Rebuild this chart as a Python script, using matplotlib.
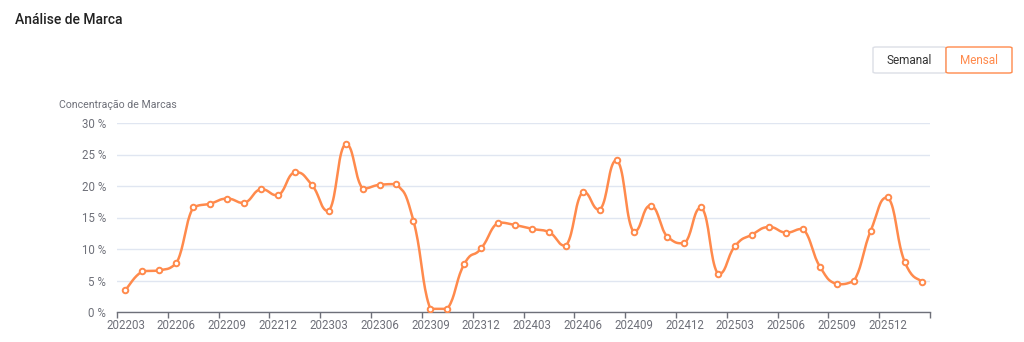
import numpy as np
import matplotlib.pyplot as plt
from matplotlib.patches import FancyBboxPatch

# monthly brand concentration (%)
months = [
    '202203', '202204', '202205', '202206', '202207', '202208', '202209', '202210',
    '202211', '202212', '202301', '202302', '202303', '202304', '202305', '202306',
    '202307', '202308', '202309', '202310', '202311', '202312', '202401', '202402',
    '202403', '202404', '202405', '202406', '202407', '202408', '202409', '202410',
    '202411', '202412', '202501', '202502', '202503', '202504', '202505', '202506',
    '202507', '202508', '202509', '202510', '202511', '202512', '202601', '202602',
]
concentration = [
    3.5, 6.45, 6.6, 7.7, 16.6, 17.2, 18.0, 17.3,
    19.5, 18.5, 22.2, 20.2, 16.0, 26.7, 19.6, 20.2,
    20.3, 14.5, 0.5, 0.5, 7.6, 10.1, 14.2, 13.8,
    13.2, 12.7, 10.5, 19.1, 16.2, 24.1, 12.7, 16.9,
    11.9, 10.9, 16.6, 6.0, 10.5, 12.3, 13.5, 12.6,
    13.2, 7.2, 4.4, 4.9, 12.9, 18.2, 8.0, 4.8,
]
y_ticks = [0, 5, 10, 15, 20, 25, 30]

ORANGE = '#ff8a4c'
GRAY = '#6e7079'


def smooth_curve(xs, ys, smooth=0.5, steps=20):
    """Bezier smoothing similar to the echarts 'smooth' line."""
    xs = np.asarray(xs, float)
    ys = np.asarray(ys, float)
    n = len(xs)
    out_x, out_y = [xs[0]], [ys[0]]
    for i in range(n - 1):
        p0 = np.array([xs[i], ys[i]])
        p1 = np.array([xs[i + 1], ys[i + 1]])
        prev = np.array([xs[i - 1], ys[i - 1]]) if i > 0 else p0
        nxt = np.array([xs[i + 2], ys[i + 2]]) if i + 2 < n else p1
        c1 = p0 + (p1 - prev) * smooth / 2
        c2 = p1 - (nxt - p0) * smooth / 2
        # keep control points within the segment's y range to avoid overshoot
        lo, hi = min(p0[1], p1[1]), max(p0[1], p1[1])
        c1[1] = np.clip(c1[1], lo, hi)
        c2[1] = np.clip(c2[1], lo, hi)
        t = np.linspace(0, 1, steps)[1:]
        bx = (1 - t) ** 3 * p0[0] + 3 * (1 - t) ** 2 * t * c1[0] + 3 * (1 - t) * t ** 2 * c2[0] + t ** 3 * p1[0]
        by = (1 - t) ** 3 * p0[1] + 3 * (1 - t) ** 2 * t * c1[1] + 3 * (1 - t) * t ** 2 * c2[1] + t ** 3 * p1[1]
        out_x.extend(bx)
        out_y.extend(by)
    return np.array(out_x), np.array(out_y)


plt.rcParams['font.family'] = ['Roboto', 'DejaVu Sans']

fig = plt.figure(figsize=(10.24, 3.42), dpi=100)
ax = fig.add_axes([117 / 1024, 1 - 312 / 342, (930 - 117) / 1024, (312 - 123) / 342])

x = np.arange(len(months))
sx, sy = smooth_curve(x, concentration)
ax.plot(sx, sy, color=ORANGE, linewidth=1.8, zorder=3, solid_capstyle='round')
ax.plot(x, concentration, linestyle='none', marker='o', markersize=4.0,
        markerfacecolor='white', markeredgecolor=ORANGE, markeredgewidth=1.4, zorder=4)

ax.set_xlim(-0.5, len(months) - 0.5)
ax.set_ylim(0, 30)
ax.set_yticks(y_ticks)
ax.set_yticklabels([f'{v} %' for v in y_ticks])
ax.yaxis.grid(True, color='#e0e6f1', linewidth=1)
ax.set_axisbelow(True)

label_idx = x[::3]
ax.set_xticks(label_idx)
ax.set_xticklabels([months[i] for i in label_idx])
ax.set_xticks(np.append(label_idx - 0.5, len(months) - 0.5), minor=True)
ax.tick_params(axis='x', which='major', length=0, pad=5, labelsize=8.3, labelcolor=GRAY)
ax.tick_params(axis='x', which='minor', length=4, color=GRAY, width=1)
ax.tick_params(axis='y', length=0, pad=8, labelsize=8.3, labelcolor=GRAY)

for side in ['top', 'right', 'left']:
    ax.spines[side].set_visible(False)
ax.spines['bottom'].set_color(GRAY)
ax.spines['bottom'].set_linewidth(1)

# y axis name
fig.text(59 / 1024, 1 - 105 / 342, 'Concentração de Marcas', fontsize=7.6, color=GRAY, va='center', ha='left')

# title
fig.text(15 / 1024, 1 - 20 / 342, 'Análise de Marca', fontsize=10, color='#222222',
         fontweight='medium', va='center', ha='left')

# toggle buttons
def px_box(x0, y0, x1, y1, edge):
    return FancyBboxPatch((x0 / 1024, 1 - y1 / 342), (x1 - x0) / 1024, (y1 - y0) / 342,
                          boxstyle='round,pad=0,rounding_size=0.003', transform=fig.transFigure,
                          facecolor='white', edgecolor=edge, linewidth=1)

fig.patches.append(px_box(873, 47, 946, 73, '#dcdfe6'))
fig.patches.append(px_box(946, 47, 1012, 73, ORANGE))
fig.text(909.5 / 1024, 1 - 60 / 342, 'Semanal', fontsize=8.5, color='#333333', ha='center', va='center')
fig.text(979 / 1024, 1 - 60 / 342, 'Mensal', fontsize=8.5, color=ORANGE, ha='center', va='center')

fig.savefig('out.png', dpi=100)
